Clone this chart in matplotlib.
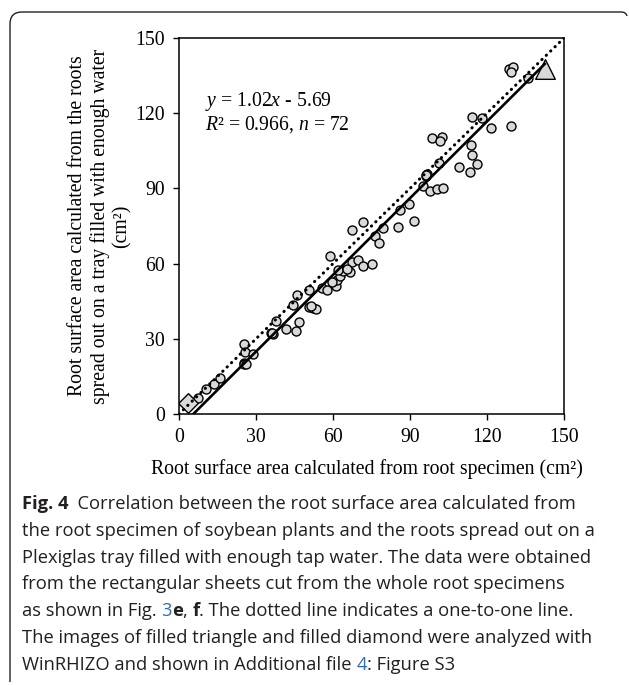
import matplotlib
matplotlib.use("Agg")
import matplotlib.pyplot as plt
from matplotlib.path import Path
from matplotlib.patches import PathPatch
import numpy as np

plt.rcParams['font.family'] = 'Liberation Serif'
plt.rcParams['mathtext.fontset'] = 'custom'
plt.rcParams['mathtext.rm'] = 'Liberation Serif'
plt.rcParams['mathtext.it'] = 'Liberation Serif:italic'

# root surface area (cm2): specimen vs spread out on tray
specimen = [7.5, 10.5, 13.8, 16.1, 25.3, 25.7, 29.0, 25.2, 25.4, 35.8,
            36.6, 37.6, 41.7, 45.7, 46.8, 44.5, 46.1, 50.7, 50.8, 52.1,
            53.3, 55.6, 57.8, 58.7, 61.0, 61.4, 62.7, 64.0, 66.6, 67.3,
            69.8, 71.8, 75.3, 67.3, 71.8, 76.2, 78.0, 79.6, 85.4, 86.2,
            89.8, 91.6, 95.0, 97.8, 100.4, 102.7, 96.1, 96.6, 101.4, 98.6,
            102.3, 101.7, 109.0, 113.4, 116.0, 114.0, 113.6, 114.3, 118.2, 121.4,
            129.2, 128.5, 130.0, 129.2, 136.1, 59.5, 62.0, 65.5, 51.5, 26.0,
            36.2, 96.4]
tray = [6.4, 10.0, 12.0, 14.5, 27.9, 24.6, 23.8, 20.5, 19.8, 32.2,
        32.0, 37.0, 34.0, 33.1, 36.9, 43.4, 47.3, 49.5, 42.6, 42.2,
        42.0, 50.2, 49.3, 62.9, 51.2, 53.4, 55.0, 57.0, 56.6, 60.8,
        61.4, 59.2, 59.8, 73.4, 76.7, 71.0, 68.3, 74.1, 74.8, 81.2,
        83.6, 76.9, 91.1, 89.0, 89.7, 90.2, 95.0, 95.8, 100.2, 110.0,
        110.6, 108.9, 98.6, 96.6, 99.7, 103.3, 107.3, 118.4, 117.9, 114.0,
        115.0, 137.8, 138.6, 136.6, 133.9, 52.5, 57.5, 58.0, 43.0, 20.0,
        32.5, 95.4]
triangle_x, triangle_y = [142.5], [137.6]
diamond_x, diamond_y = [3.6], [4.3]
slope, intercept = 1.02, -5.69
r2, n = 0.966, 72
ticks = [0, 30, 60, 90, 120, 150]

W, H = 629, 685
fig = plt.figure(figsize=(W / 100, H / 100), dpi=100)
ax = fig.add_axes([179 / W, 1 - 414 / H, 385 / W, 376 / H])

ax.scatter(specimen, tray, s=42, facecolor='#d9d9d9', edgecolor='black', linewidth=1.0, zorder=2)
ax.scatter(triangle_x, triangle_y, marker='^', s=200, facecolor='#d9d9d9', edgecolor='black', linewidth=1.0, zorder=2)
ax.scatter(diamond_x, diamond_y, marker='D', s=100, facecolor='#d9d9d9', edgecolor='black', linewidth=1.0, zorder=2)

# one-to-one line
ax.plot([0, 150], [0, 150], color='black', lw=2.2, linestyle=(0, (0.1, 1.9)),
        dash_capstyle='round', zorder=3)
# regression line
fit_x = np.array([-intercept / slope, triangle_x[0]])
ax.plot(fit_x, slope * fit_x + intercept, color='black', lw=1.9, zorder=3)

ax.set_xlim(0, 150)
ax.set_ylim(0, 150)
ax.set_xticks(ticks)
ax.set_yticks(ticks)
ax.tick_params(direction='out', length=4, width=1, labelsize=14.2, pad=6)
for s in ax.spines.values():
    s.set_linewidth(1.1)

ax.text(0.0675, 0.83, r'$y$ = 1.02$x$ - 5.69', transform=ax.transAxes, fontsize=14.2, va='center')
ax.text(0.0675, 0.769, r'$R$² = 0.966, $n$ = 72', transform=ax.transAxes, fontsize=14.2, va='center')

fig.text(100 / W, 1 - 226 / H,
         'Root surface area calculated from the roots\nspread out on a tray filled with enough water\n(cm²)',
         rotation=90, ha='center', va='center', multialignment='center', fontsize=14.2, linespacing=1.18)
fig.text(367 / W, 1 - 469 / H, 'Root surface area calculated from root specimen (cm²)',
         ha='center', va='center', fontsize=14.2)

# caption
cap = dict(family='Open Sans', fontsize=13.2, color='#231f20')
blue = '#2f6db5'
lines = [
    [('Fig. 4', {'weight': 'bold'}), ('  Correlation between the root surface area calculated from', {})],
    [('the root specimen of soybean plants and the roots spread out on a', {})],
    [('Plexiglas tray filled with enough tap water. The data were obtained', {})],
    [('from the rectangular sheets cut from the whole root specimens', {})],
    [('as shown in Fig. ', {}), ('3', {'color': blue}), ('e', {'weight': 'bold'}), (', ', {}),
     ('f', {'weight': 'bold'}), ('. The dotted line indicates a one-to-one line.', {})],
    [('The images of filled triangle and filled diamond were analyzed with', {})],
    [('WinRHIZO and shown in Additional file ', {}), ('4', {'color': blue}), (': Figure S3', {})],
]
renderer = fig.canvas.get_renderer()
y0 = 504
for i, segs in enumerate(lines):
    x = 22 / W
    for txt, extra in segs:
        props = dict(cap)
        props.update(extra)
        t = fig.text(x, 1 - (y0 + i * 26.8) / H, txt, va='center', ha='left', **props)
        x += t.get_window_extent(renderer).width / fig.bbox.width

# rounded frame (top and left edges)
verts = [(10, 682), (10, 24), (10, 12), (22, 12), (621, 12), (626, 12), (627, 16)]
codes = [Path.MOVETO, Path.LINETO, Path.CURVE3, Path.CURVE3, Path.LINETO, Path.CURVE3, Path.CURVE3]
verts = [(vx / W, 1 - vy / H) for vx, vy in verts]
fig.patches.append(PathPatch(Path(verts, codes), transform=fig.transFigure, fill=False,
                             edgecolor='#231f20', lw=1.0))

fig.savefig('out.png', dpi=100)
